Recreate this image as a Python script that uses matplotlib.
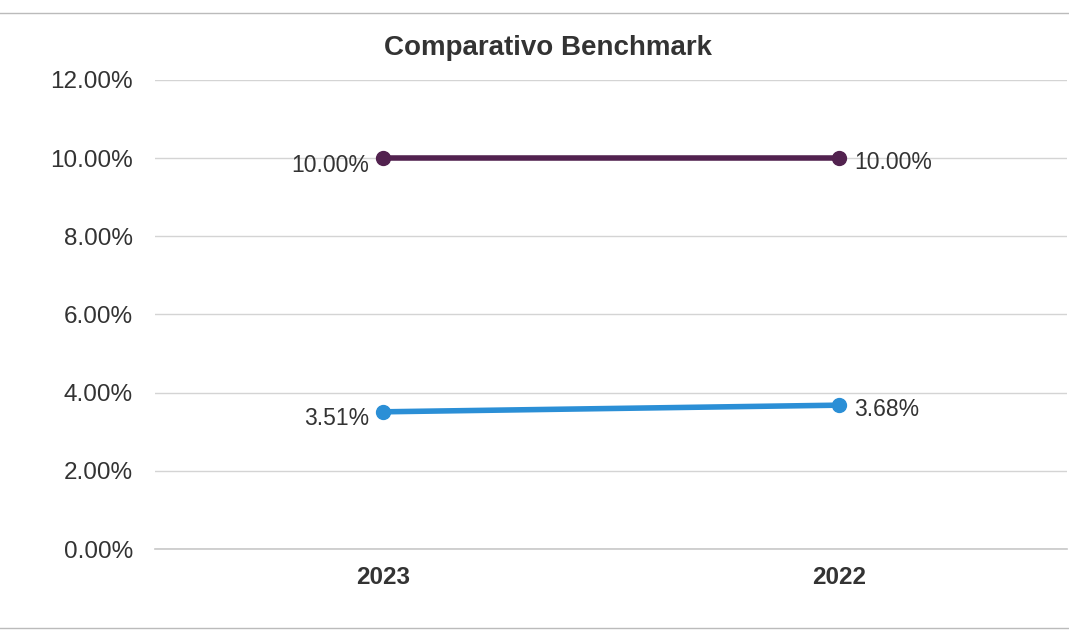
import matplotlib
matplotlib.use('Agg')
import matplotlib.pyplot as plt
from matplotlib.patches import Rectangle
from matplotlib.ticker import FuncFormatter

plt.rcParams['font.family'] = ['Liberation Sans', 'DejaVu Sans']

# ── Dati ─────────────────────────────────────────────────────────────────
anni = ['2023', '2022']
benchmark = [10.00, 10.00]
rendimento = [3.51, 3.68]
colori = {'benchmark': '#52224f', 'rendimento': '#2b8fd6'}

fig = plt.figure(figsize=(10.69, 6.34), dpi=100)
ax = fig.add_axes([0.145, 0.134, 0.853, 0.74])
x = list(range(len(anni)))

for serie, col in ((benchmark, colori['benchmark']), (rendimento, colori['rendimento'])):
    ax.plot(x, serie, color=col, lw=4, marker='o', ms=10, zorder=3, solid_capstyle='round')
    ax.annotate(f'{serie[0]:.2f}%', (x[0], serie[0]), xytext=(-10, -5),
                textcoords='offset points', ha='right', va='center', fontsize=16.5, color='#333333')
    ax.annotate(f'{serie[1]:.2f}%', (x[1], serie[1]), xytext=(11, -3),
                textcoords='offset points', ha='left', va='center', fontsize=16.5, color='#333333')

ax.set_xlim(-0.5, len(anni) - 0.5)
ax.set_ylim(0, 12)
ax.set_yticks(range(0, 13, 2))
ax.yaxis.set_major_formatter(FuncFormatter(lambda v, _: f'{v:.2f}%'))
ax.set_xticks(x)
ax.set_xticklabels(anni, fontweight='bold')
ax.tick_params(axis='both', length=0, labelsize=17.5, colors='#333333')
ax.tick_params(axis='y', pad=16)
ax.tick_params(axis='x', pad=12)
ax.grid(axis='y', color='#d4d4d4', lw=1)
ax.axhline(0, color='#c8c8c8', lw=1.2, clip_on=False, zorder=1)
ax.set_axisbelow(True)
for s in ax.spines.values():
    s.set_visible(False)

fig.text(0.513, 0.925, 'Comparativo Benchmark', ha='center', va='center',
         fontsize=20, fontweight='bold', color='#333333')
fig.add_artist(Rectangle((-0.01, 0.01), 1.02, 0.97, transform=fig.transFigure,
                         fill=False, edgecolor='#bbbbbb', lw=1))

plt.savefig('out.png', dpi=100)
